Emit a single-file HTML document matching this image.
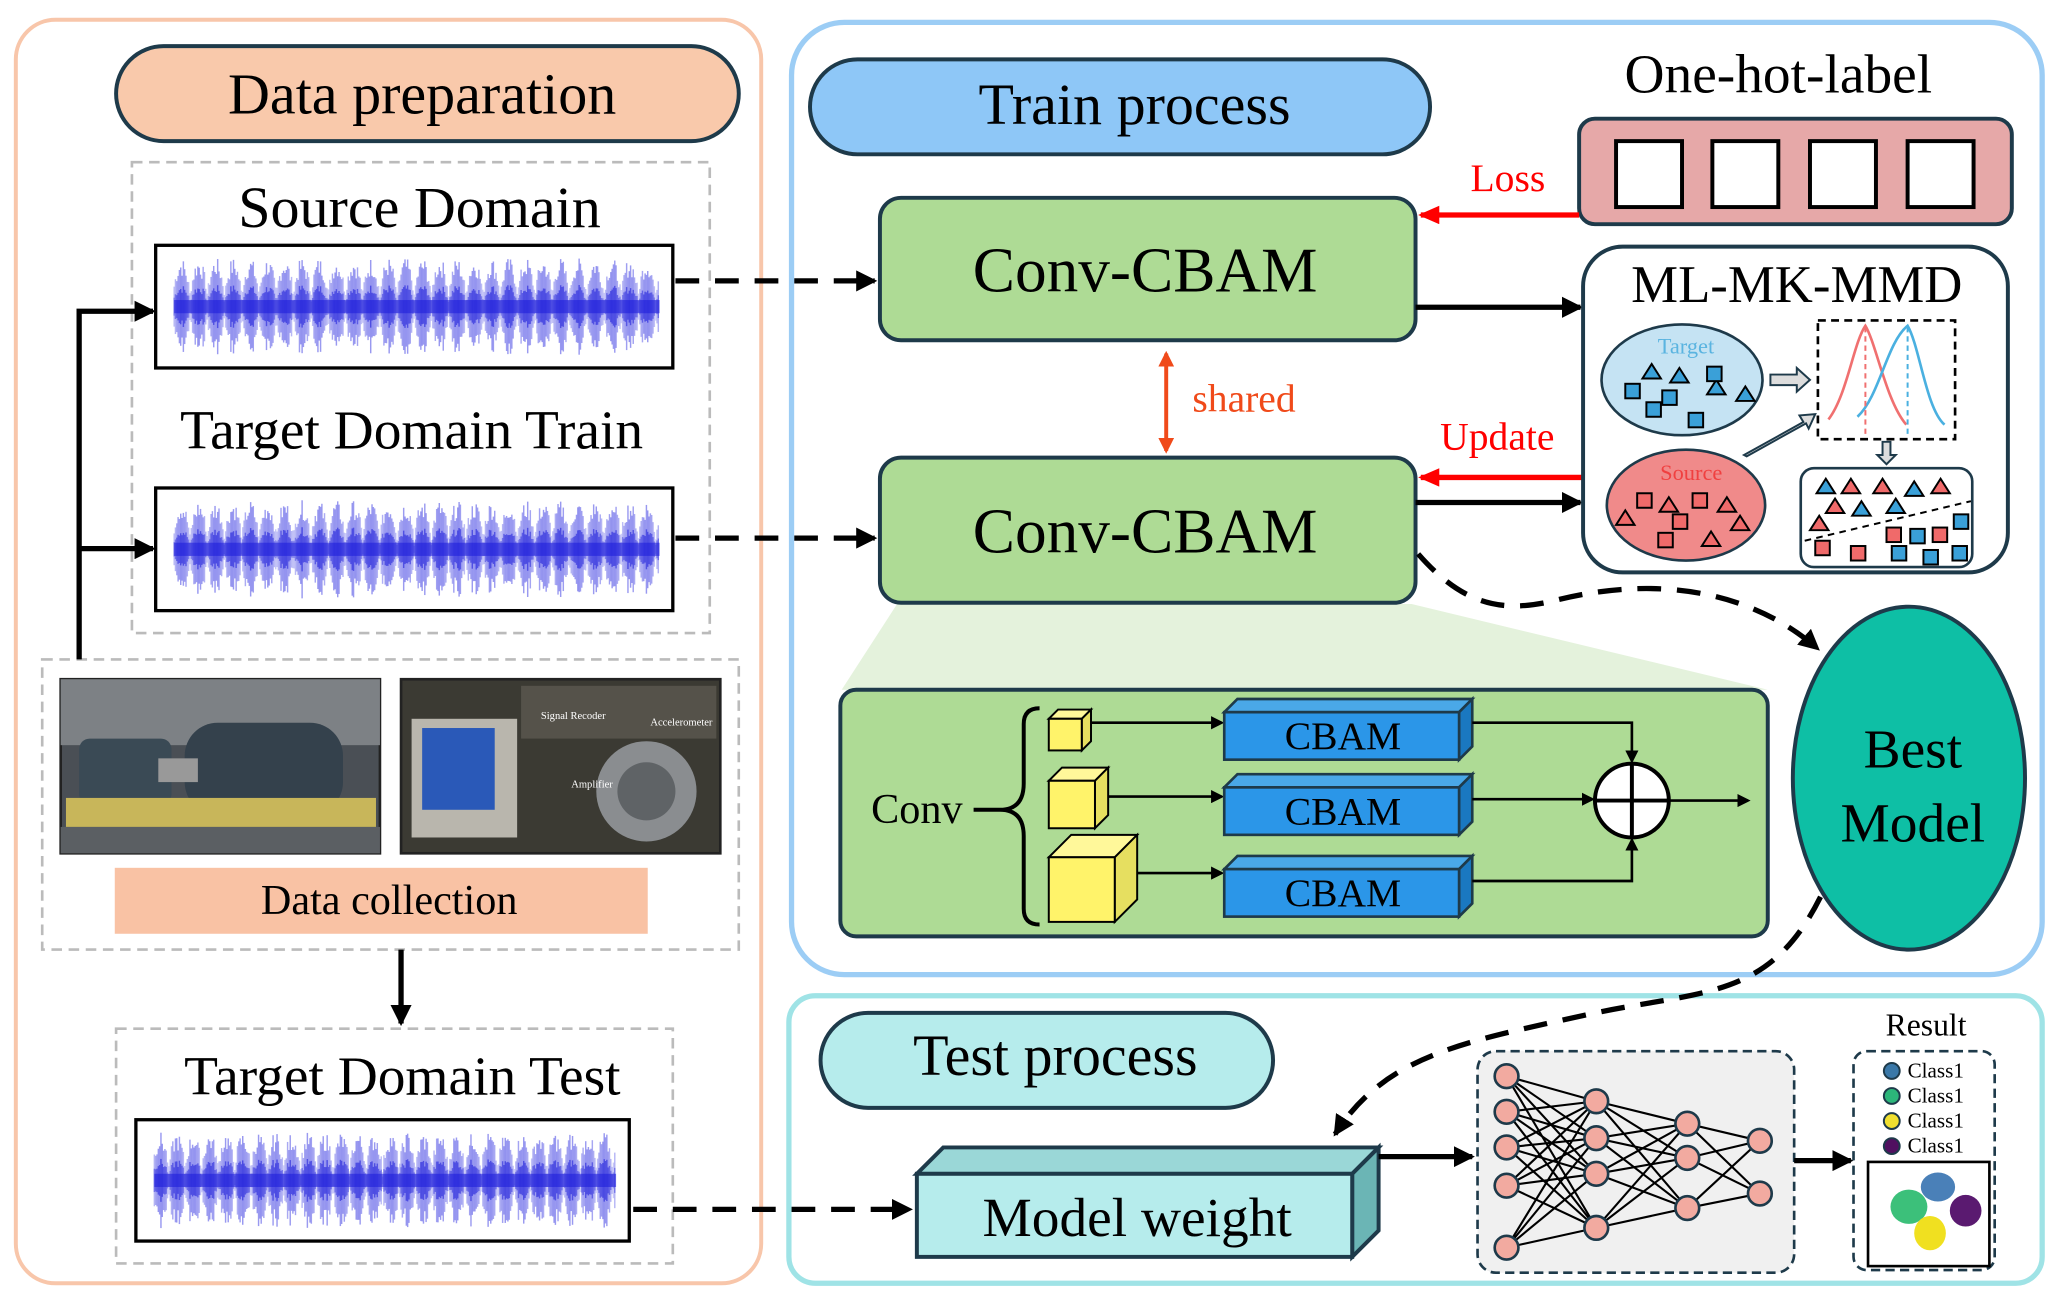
<!DOCTYPE html>
<html><head><meta charset="utf-8"><style>
html,body{margin:0;padding:0;background:#fff;}
svg{display:block;}
text{font-family:"Liberation Serif",serif;}
</style></head><body>
<svg id="s" width="2058" height="1307" viewBox="0 0 1560 991" preserveAspectRatio="none" xmlns="http://www.w3.org/2000/svg">
<defs>
<marker id="ab" markerWidth="10" markerHeight="10" refX="8" refY="5" orient="auto" markerUnits="userSpaceOnUse"><path d="M0,0 L10,5 L0,10 z" fill="#000"/></marker>
<marker id="ab2" markerWidth="16" markerHeight="16" refX="14" refY="8" orient="auto" markerUnits="userSpaceOnUse"><path d="M0,0 L16,8 L0,16 z" fill="#000"/></marker>
<marker id="ar" markerWidth="16" markerHeight="14" refX="14" refY="7" orient="auto" markerUnits="userSpaceOnUse"><path d="M0,0 L16,7 L0,14 z" fill="#f00"/></marker>
<marker id="ao" markerWidth="12" markerHeight="12" refX="10" refY="6" orient="auto-start-reverse" markerUnits="userSpaceOnUse"><path d="M0,0 L12,6 L0,12 z" fill="#f04a1a"/></marker>
</defs>

<rect x="12" y="15" width="565" height="958" rx="30" fill="none" stroke="#f8c6aa" stroke-width="3"/>
<rect x="88" y="35" width="472" height="72" rx="36" fill="#f9c9ab" stroke="#1e3a4a" stroke-width="3"/>
<text x="320" y="86" font-size="44" text-anchor="middle">Data preparation</text>
<rect x="100" y="123" width="438" height="357" fill="none" stroke="#bbb" stroke-width="2" stroke-dasharray="8,5"/>
<text x="318" y="172" font-size="44" text-anchor="middle">Source Domain</text>
<g class="wave" data-x="118" data-y="186" data-w="392" data-h="93"></g>
<text x="312" y="340" font-size="42" text-anchor="middle">Target Domain Train</text>
<g class="wave" data-x="118" data-y="370" data-w="392" data-h="93"></g>

<rect x="32" y="500" width="528" height="220" fill="none" stroke="#bbb" stroke-width="2" stroke-dasharray="8,5"/>
<rect x="46" y="515" width="242" height="132" fill="#4a4f55" stroke="#222" stroke-width="2"/>
<rect x="46" y="515" width="242" height="50" fill="#7d8185"/>
<rect x="60" y="560" width="70" height="50" rx="8" fill="#3a4a55"/>
<rect x="140" y="548" width="120" height="70" rx="25" fill="#34414c"/>
<rect x="120" y="575" width="30" height="18" fill="#999"/>
<rect x="50" y="605" width="235" height="22" fill="#c8b65a"/>
<rect x="46" y="627" width="242" height="20" fill="#5b5f63"/>
<rect x="304" y="515" width="242" height="132" fill="#3b3a33" stroke="#222" stroke-width="2"/>
<rect x="312" y="545" width="80" height="90" fill="#b9b6ad"/>
<rect x="320" y="552" width="55" height="62" fill="#2a59b8"/>
<circle cx="490" cy="600" r="38" fill="#8a8d90"/>
<circle cx="490" cy="600" r="22" fill="#5f6366"/>
<rect x="395" y="520" width="148" height="40" fill="#55524a"/>
<text x="410" y="545" font-size="8" font-family="Liberation Sans,sans-serif" fill="#fff">Signal Recoder</text>
<text x="493" y="550" font-size="8" font-family="Liberation Sans,sans-serif" fill="#fff">Accelerometer</text>
<text x="433" y="597" font-size="8" font-family="Liberation Sans,sans-serif" fill="#fff">Amplifier</text>
<rect x="87" y="658" width="404" height="50" fill="#f9c2a4"/>
<text x="295" y="693" font-size="32" text-anchor="middle">Data collection</text>

<polyline points="60,500 60,236 116,236" fill="none" stroke="#000" stroke-width="4" marker-end="url(#ab2)"/>
<line x1="60" y1="416" x2="116" y2="416" stroke="#000" stroke-width="4" marker-end="url(#ab2)"/>
<line x1="304" y1="720" x2="304" y2="776" stroke="#000" stroke-width="4" marker-end="url(#ab2)"/>

<rect x="88" y="780" width="422" height="178" fill="none" stroke="#bbb" stroke-width="2" stroke-dasharray="8,5"/>
<text x="305" y="830" font-size="42" text-anchor="middle">Target Domain Test</text>
<g class="wave" data-x="103" data-y="849" data-w="374" data-h="92"></g>

<line x1="512" y1="213" x2="663" y2="213" stroke="#000" stroke-width="4" stroke-dasharray="18,12" marker-end="url(#ab2)"/>
<line x1="512" y1="408" x2="663" y2="408" stroke="#000" stroke-width="4" stroke-dasharray="18,12" marker-end="url(#ab2)"/>
<line x1="480" y1="917" x2="690" y2="917" stroke="#000" stroke-width="4" stroke-dasharray="18,12" marker-end="url(#ab2)"/>

<rect x="600" y="17" width="948" height="722" rx="40" fill="none" stroke="#9ccdf5" stroke-width="4"/>
<rect x="614" y="45" width="470" height="72" rx="36" fill="#8ec7f7" stroke="#1e3a4a" stroke-width="3"/>
<text x="860" y="94" font-size="44" text-anchor="middle">Train process</text>
<text x="1348" y="70" font-size="42" text-anchor="middle">One-hot-label</text>
<rect x="1197" y="90" width="328" height="80" rx="12" fill="#e6a8a8" stroke="#1e3a4a" stroke-width="3"/>
<rect x="1225" y="107" width="50" height="50" fill="#fff" stroke="#000" stroke-width="3"/>
<rect x="1298" y="107" width="50" height="50" fill="#fff" stroke="#000" stroke-width="3"/>
<rect x="1372" y="107" width="50" height="50" fill="#fff" stroke="#000" stroke-width="3"/>
<rect x="1446" y="107" width="50" height="50" fill="#fff" stroke="#000" stroke-width="3"/>
<text x="1143" y="145" font-size="30" fill="#f00" text-anchor="middle">Loss</text>
<line x1="1197" y1="163" x2="1077" y2="163" stroke="#f00" stroke-width="4" marker-end="url(#ar)"/>

<polygon points="680,458 1070,458 1340,523 638,523" fill="#e4f2dc"/>
<rect x="667" y="150" width="406" height="108" rx="16" fill="#aedb95" stroke="#1e3a4a" stroke-width="3"/>
<text x="868" y="221" font-size="48" text-anchor="middle">Conv-CBAM</text>
<line x1="884" y1="268" x2="884" y2="342" stroke="#f04a1a" stroke-width="3" marker-start="url(#ao)" marker-end="url(#ao)"/>
<text x="943" y="312" font-size="30" fill="#f04a1a" text-anchor="middle">shared</text>
<rect x="667" y="347" width="406" height="110" rx="16" fill="#aedb95" stroke="#1e3a4a" stroke-width="3"/>
<text x="868" y="419" font-size="48" text-anchor="middle">Conv-CBAM</text>
<text x="1135" y="341" font-size="30" fill="#f00" text-anchor="middle">Update</text>
<line x1="1200" y1="362" x2="1077" y2="362" stroke="#f00" stroke-width="4" marker-end="url(#ar)"/>
<line x1="1073" y1="233" x2="1198" y2="233" stroke="#000" stroke-width="4" marker-end="url(#ab2)"/>
<line x1="1073" y1="381" x2="1198" y2="381" stroke="#000" stroke-width="4" marker-end="url(#ab2)"/>

<rect x="1200" y="187" width="322" height="247" rx="30" fill="#fff" stroke="#1e3a4a" stroke-width="3"/>
<text x="1362" y="229" font-size="40" text-anchor="middle">ML-MK-MMD</text>
<ellipse cx="1275" cy="288" rx="61" ry="42" fill="#c5e3f3" stroke="#1e3a4a" stroke-width="2"/>
<text x="1278" y="268" font-size="17" fill="#5ab4e0" text-anchor="middle">Target</text>
<g fill="#3aa0d8" stroke="#000" stroke-width="1.5">
<path d="M1245,287 l7,-11 l7,11z"/><path d="M1266,290 l7,-11 l7,11z"/><path d="M1294,299 l7,-11 l7,11z"/><path d="M1316,304 l7,-11 l7,11z"/>
<rect x="1232" y="291" width="11" height="11"/><rect x="1294" y="278" width="11" height="11"/><rect x="1260" y="296" width="11" height="11"/><rect x="1248" y="305" width="11" height="11"/><rect x="1280" y="313" width="11" height="11"/>
</g>
<ellipse cx="1278" cy="383" rx="60" ry="42" fill="#f08a8a" stroke="#1e3a4a" stroke-width="2"/>
<text x="1282" y="364" font-size="17" fill="#f04040" text-anchor="middle">Source</text>
<g fill="#f06a6a" stroke="#000" stroke-width="1.5">
<rect x="1241" y="374" width="11" height="11"/><rect x="1283" y="374" width="11" height="11"/><rect x="1268" y="390" width="11" height="11"/><rect x="1257" y="404" width="11" height="11"/>
<path d="M1225,398 l7,-11 l7,11z"/><path d="M1258,388 l7,-11 l7,11z"/><path d="M1302,388 l7,-11 l7,11z"/><path d="M1312,402 l7,-11 l7,11z"/><path d="M1290,414 l7,-11 l7,11z"/>
</g>
<path d="M1342,284 h20 v-5 l10,9 l-10,9 v-5 h-20z" fill="#ddd" stroke="#1e3a4a" stroke-width="1.5"/>
<path d="M1322,345 l45,-25 l-3,-5 l12,-1 l-5,11 l-2,-4 l-45,25z" fill="#ddd" stroke="#1e3a4a" stroke-width="1.5"/>
<rect x="1378" y="243" width="104" height="90" fill="none" stroke="#000" stroke-width="2" stroke-dasharray="6,4"/>
<path d="M1386,318 C1400,300 1405,260 1414,247 C1422,260 1430,305 1445,322" fill="none" stroke="#f07070" stroke-width="2"/>
<path d="M1408,316 C1425,300 1430,260 1446,247 C1455,262 1460,310 1474,322" fill="none" stroke="#4ab0e0" stroke-width="2"/>
<line x1="1414" y1="248" x2="1414" y2="330" stroke="#f07070" stroke-width="1.5" stroke-dasharray="4,3"/>
<line x1="1446" y1="248" x2="1446" y2="330" stroke="#4ab0e0" stroke-width="1.5" stroke-dasharray="4,3"/>
<path d="M1427,335 h6 v10 h4 l-7,7 l-7,-7 h4z" fill="#ddd" stroke="#1e3a4a" stroke-width="1.5"/>
<rect x="1365" y="355" width="130" height="75" rx="10" fill="#fff" stroke="#1e3a4a" stroke-width="2"/>
<line x1="1368" y1="410" x2="1494" y2="380" stroke="#000" stroke-width="1.5" stroke-dasharray="5,4"/>
<g stroke="#000" stroke-width="1.5">
<path d="M1377,374 l7,-11 l7,11z" fill="#3aa0d8"/><path d="M1396,374 l7,-11 l7,11z" fill="#f06a6a"/><path d="M1420,374 l7,-11 l7,11z" fill="#f06a6a"/><path d="M1444,376 l7,-11 l7,11z" fill="#3aa0d8"/><path d="M1464,374 l7,-11 l7,11z" fill="#f06a6a"/>
<path d="M1384,389 l7,-11 l7,11z" fill="#f06a6a"/><path d="M1404,391 l7,-11 l7,11z" fill="#3aa0d8"/><path d="M1430,389 l7,-11 l7,11z" fill="#3aa0d8"/><path d="M1372,402 l7,-11 l7,11z" fill="#f06a6a"/>
<g fill="#f06a6a"><rect x="1376" y="410" width="11" height="11"/><rect x="1403" y="414" width="11" height="11"/><rect x="1430" y="400" width="11" height="11"/><rect x="1465" y="400" width="11" height="11"/></g>
<g fill="#3aa0d8"><rect x="1448" y="401" width="11" height="11"/><rect x="1434" y="414" width="11" height="11"/><rect x="1458" y="417" width="11" height="11"/><rect x="1480" y="414" width="11" height="11"/><rect x="1481" y="390" width="11" height="11"/></g>
</g>

<rect x="637" y="523" width="703" height="187" rx="12" fill="#aedb95" stroke="#1e3a4a" stroke-width="3"/>
<text x="695" y="624" font-size="32" text-anchor="middle">Conv</text>
<path d="M738,614 h20 q18,0 18,-20 v-45 q0,-12 12,-12 M758,614 q18,0 18,20 v55 q0,12 12,12" fill="none" stroke="#000" stroke-width="3"/>
<g stroke="#000" stroke-width="1.5">
<polygon points="795,545 820,545 827,538 802,538" fill="#fff89a"/><polygon points="820,545 827,538 827,562 820,569" fill="#e6df60"/><rect x="795" y="545" width="25" height="24" fill="#fff36a"/>
<polygon points="795,592 830,592 840,582 805,582" fill="#fff89a"/><polygon points="830,592 840,582 840,618 830,628" fill="#e6df60"/><rect x="795" y="592" width="35" height="36" fill="#fff36a"/>
<polygon points="795,650 845,650 862,633 812,633" fill="#fff89a"/><polygon points="845,650 862,633 862,682 845,699" fill="#e6df60"/><rect x="795" y="650" width="50" height="49" fill="#fff36a"/>
</g>
<g stroke="#000" stroke-width="2">
<line x1="827" y1="548" x2="926" y2="548" marker-end="url(#ab)"/>
<line x1="840" y1="604" x2="926" y2="604" marker-end="url(#ab)"/>
<line x1="862" y1="662" x2="926" y2="662" marker-end="url(#ab)"/>
</g>
<g stroke="#1e3a4a" stroke-width="2">
<polygon points="928,540 1106,540 1116,530 938,530" fill="#4aa8e8"/><polygon points="1106,540 1116,530 1116,566 1106,576" fill="#1a78c0"/><rect x="928" y="540" width="178" height="36" fill="#2b96e8"/>
<polygon points="928,597 1106,597 1116,587 938,587" fill="#4aa8e8"/><polygon points="1106,597 1116,587 1116,623 1106,633" fill="#1a78c0"/><rect x="928" y="597" width="178" height="36" fill="#2b96e8"/>
<polygon points="928,659 1106,659 1116,649 938,649" fill="#4aa8e8"/><polygon points="1106,659 1116,649 1116,685 1106,695" fill="#1a78c0"/><rect x="928" y="659" width="178" height="36" fill="#2b96e8"/>
</g>
<text x="1018" y="568" font-size="30" text-anchor="middle">CBAM</text>
<text x="1018" y="625" font-size="30" text-anchor="middle">CBAM</text>
<text x="1018" y="687" font-size="30" text-anchor="middle">CBAM</text>
<g stroke="#000" stroke-width="2" fill="none">
<polyline points="1116,548 1237,548 1237,577" marker-end="url(#ab)"/>
<line x1="1116" y1="606" x2="1207" y2="606" marker-end="url(#ab)"/>
<polyline points="1116,668 1237,668 1237,637" marker-end="url(#ab)"/>
<line x1="1265" y1="607" x2="1325" y2="607" marker-end="url(#ab)"/>
</g>
<circle cx="1237" cy="607" r="28" fill="#fff" stroke="#000" stroke-width="3"/>
<line x1="1209" y1="607" x2="1265" y2="607" stroke="#000" stroke-width="3"/>
<line x1="1237" y1="579" x2="1237" y2="635" stroke="#000" stroke-width="3"/>

<path d="M1075,420 C1110,460 1140,465 1180,455 C1260,435 1330,450 1378,492" fill="none" stroke="#000" stroke-width="4" stroke-dasharray="18,12" marker-end="url(#ab2)"/>
<ellipse cx="1447" cy="590" rx="88" ry="130" fill="#0ebfa5" stroke="#1e3a4a" stroke-width="3"/>
<text x="1450" y="582" font-size="42" text-anchor="middle">Best</text>
<text x="1450" y="638" font-size="42" text-anchor="middle">Model</text>

<rect x="598" y="755" width="950" height="218" rx="20" fill="none" stroke="#9fe3e6" stroke-width="4"/>
<rect x="622" y="768" width="343" height="72" rx="36" fill="#b6ecec" stroke="#1e3a4a" stroke-width="3"/>
<text x="800" y="815" font-size="44" text-anchor="middle">Test process</text>
<path d="M1380,680 C1340,760 1290,750 1200,770 C1110,790 1050,800 1012,860" fill="none" stroke="#000" stroke-width="4" stroke-dasharray="18,12" marker-end="url(#ab2)"/>
<g stroke="#1e3a4a" stroke-width="3">
<polygon points="695,890 1025,890 1045,870 715,870" fill="#9ad7d7"/>
<polygon points="1025,890 1045,870 1045,933 1025,953" fill="#6bb5b5"/>
<rect x="695" y="890" width="330" height="63" fill="#b6ecec"/>
</g>
<text x="862" y="937" font-size="42" text-anchor="middle">Model weight</text>
<line x1="1045" y1="877" x2="1116" y2="877" stroke="#000" stroke-width="4" marker-end="url(#ab2)"/>
<rect x="1120" y="797" width="240" height="168" rx="14" fill="#f0f0f0" stroke="#1e3a4a" stroke-width="2" stroke-dasharray="7,4"/>
<g id="nn"></g>
<line x1="1360" y1="880" x2="1403" y2="880" stroke="#000" stroke-width="4" marker-end="url(#ab2)"/>
<text x="1460" y="785" font-size="24" text-anchor="middle">Result</text>
<rect x="1405" y="797" width="107" height="166" rx="10" fill="#fff" stroke="#1e3a4a" stroke-width="2" stroke-dasharray="7,4"/>
<g stroke="#1e3a4a" stroke-width="1.5">
<circle cx="1434" cy="812" r="6" fill="#3a78a8"/><circle cx="1434" cy="831" r="6" fill="#2cb67a"/><circle cx="1434" cy="850" r="6" fill="#f0e030"/><circle cx="1434" cy="869" r="6" fill="#501060"/>
</g>
<text x="1446" y="817" font-size="16">Class1</text>
<text x="1446" y="836" font-size="16">Class1</text>
<text x="1446" y="855" font-size="16">Class1</text>
<text x="1446" y="874" font-size="16">Class1</text>
<rect x="1416" y="881" width="92" height="79" fill="#fff" stroke="#000" stroke-width="2"/>
<ellipse cx="1447" cy="915" rx="14" ry="13" fill="#3cc07a"/>
<ellipse cx="1469" cy="900" rx="13" ry="11" fill="#4a80b8"/>
<ellipse cx="1490" cy="918" rx="12" ry="12" fill="#5a1a70"/>
<ellipse cx="1463" cy="935" rx="12" ry="13" fill="#f0e020"/>
</svg>
<script>
(function(){
var ns="http://www.w3.org/2000/svg";
var seed=7;function r(){seed=(seed*9301+49297)%233280;return seed/233280;}
document.querySelectorAll('.wave').forEach(function(g){
 var x=+g.dataset.x,y=+g.dataset.y,w=+g.dataset.w,h=+g.dataset.h;
 var b=document.createElementNS(ns,'rect');b.setAttribute('x',x);b.setAttribute('y',y);b.setAttribute('width',w);b.setAttribute('height',h);b.setAttribute('fill','#fff');b.setAttribute('stroke','#000');b.setAttribute('stroke-width','2.5');g.appendChild(b);
 var cy=y+h/2;
 for(var i=x+14;i<x+w-10;i+=1){
  var env=Math.pow(Math.abs(Math.sin((i-x)/w*Math.PI*30)),0.7);
  var a=(h*0.40)*(0.25+0.75*env)*(0.6+0.4*r());
  var l=document.createElementNS(ns,'line');
  l.setAttribute('x1',i);l.setAttribute('x2',i);l.setAttribute('y1',cy-a);l.setAttribute('y2',cy+a);
  l.setAttribute('stroke','rgba(50,50,225,'+(0.2+0.3*env)+')');l.setAttribute('stroke-width','1.1');g.appendChild(l);
  var l2=document.createElementNS(ns,'line');
  l2.setAttribute('x1',i);l2.setAttribute('x2',i);l2.setAttribute('y1',cy-a*0.45);l2.setAttribute('y2',cy+a*0.45);
  l2.setAttribute('stroke','rgba(40,40,220,'+(0.25+0.4*env)+')');l2.setAttribute('stroke-width','1.1');g.appendChild(l2);
 }
 var c=document.createElementNS(ns,'rect');c.setAttribute('x',x+14);c.setAttribute('y',cy-5);c.setAttribute('width',w-24);c.setAttribute('height',10);c.setAttribute('fill','rgba(30,30,220,0.6)');g.appendChild(c);
});
var cols=[[1142,[816,843,870,899,946]],[1210,[835,863,890,931]],[1279,[852,878,916]],[1334,[865,905]]];
var nn=document.getElementById('nn');
for(var k=0;k<3;k++){cols[k][1].forEach(function(a){cols[k+1][1].forEach(function(b){
 var l=document.createElementNS(ns,'line');l.setAttribute('x1',cols[k][0]);l.setAttribute('y1',a);l.setAttribute('x2',cols[k+1][0]);l.setAttribute('y2',b);l.setAttribute('stroke','#000');l.setAttribute('stroke-width','1.6');nn.appendChild(l);});});}
cols.forEach(function(c){c[1].forEach(function(y){var e=document.createElementNS(ns,'circle');e.setAttribute('cx',c[0]);e.setAttribute('cy',y);e.setAttribute('r',9);e.setAttribute('fill','#f2aaa0');e.setAttribute('stroke','#1e3a4a');e.setAttribute('stroke-width','2');nn.appendChild(e);});});
})();
</script>
</body></html>
